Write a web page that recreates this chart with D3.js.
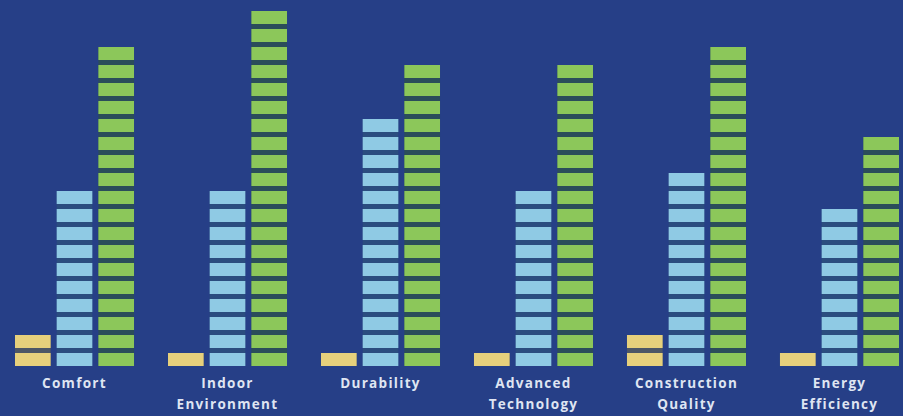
<!DOCTYPE html>
<html>
<head>
<meta charset="utf-8">
<script src="https://cdn.jsdelivr.net/npm/d3@7"></script>
<style>
  html, body { margin: 0; padding: 0; background: #263f87; }
  svg { display: block; }
</style>
</head>
<body>
<svg id="chart" width="903" height="416"></svg>
<script>
// categories (first / second label line)
const categories = ["Comfort", "Indoor Environment", "Durability", "Advanced Technology", "Construction Quality", "Energy Efficiency"];
const labelLines = [["Comfort"], ["Indoor", "Environment"], ["Durability"], ["Advanced", "Technology"], ["Construction", "Quality"], ["Energy", "Efficiency"]];
const series     = ["yellow", "blue", "green"];
// number of blocks per bar
const yellowValues = [2, 1, 1, 1, 2, 1];
const blueValues   = [10, 10, 14, 10, 11, 9];
const greenValues  = [18, 20, 17, 17, 18, 13];

const colors = { yellow: "#e6d07c", blue: "#8fcae4", green: "#8cc75a" };
const gapColors = { yellow: "#6b6a4a", blue: "#2f5a78", green: "#2f5a34" };

const svg = d3.select("#chart");

// ------------------------------------------------------------
// scales
// ------------------------------------------------------------
const x0 = d3.scaleBand()
  .domain(categories)
  .range([15, 899])
  .paddingInner(0.222);

const x1 = d3.scaleBand()
  .domain(series)
  .range([0, x0.bandwidth()])
  .paddingInner(0.145);

const y = d3.scaleLinear()
  .domain([0, 20])
  .range([371, 11]);

const gap = 5;

const rows = categories.map((c, i) => ({
  cat: c,
  values: { yellow: yellowValues[i], blue: blueValues[i], green: greenValues[i] }
}));

// ------------------------------------------------------------
// bars made of stacked blocks
// ------------------------------------------------------------
const groups = svg.selectAll("g.group")
  .data(rows)
  .join("g")
  .attr("class", "group")
  .attr("transform", d => `translate(${x0(d.cat)},0)`);

const bars = groups.selectAll("g.bar")
  .data(d => series.map(s => ({ s, n: d.values[s] })))
  .join("g")
  .attr("class", "bar")
  .attr("transform", d => `translate(${x1(d.s)},0)`);

// dark backing so the gaps read darker than the background
bars.append("rect")
  .attr("x", 0)
  .attr("width", x1.bandwidth())
  .attr("y", d => y(d.n))
  .attr("height", d => y(0) - gap - y(d.n))
  .attr("fill", d => gapColors[d.s])
  .attr("opacity", 0.55);

bars.selectAll("rect.block")
  .data(d => d3.range(d.n).map(i => ({ s: d.s, i })))
  .join("rect")
  .attr("class", "block")
  .attr("x", 0)
  .attr("width", x1.bandwidth())
  .attr("y", d => y(d.i + 1))
  .attr("height", d => y(d.i) - y(d.i + 1) - gap)
  .attr("fill", d => colors[d.s]);

// ------------------------------------------------------------
// category labels
// ------------------------------------------------------------
groups.append("text")
  .attr("x", x0.bandwidth() / 2)
  .attr("y", 388)
  .attr("text-anchor", "middle")
  .attr("fill", "#dfe5f2")
  .style("font-family", "'Open Sans', sans-serif")
  .style("font-weight", "bold")
  .style("font-size", "13.5px")
  .style("letter-spacing", "1.3px")
  .selectAll("tspan")
  .data((d, i) => labelLines[i])
  .join("tspan")
  .attr("x", x0.bandwidth() / 2)
  .attr("dy", (d, i) => i === 0 ? 0 : 21)
  .text(d => d);
</script>
</body>
</html>
